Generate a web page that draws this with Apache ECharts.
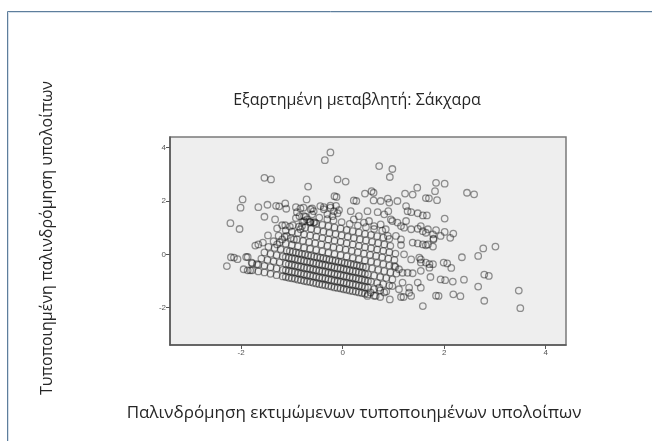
<!DOCTYPE html>
<html>
<head>
<meta charset="utf-8">
<script src="https://cdn.jsdelivr.net/npm/echarts@6/dist/echarts.min.js"></script>
<style>
html,body{margin:0;padding:0;background:#fff;}
#chart{width:652px;height:441px;}
</style>
</head>
<body>
<div id="chart"></div>
<script>
// Text
var chartTitle = 'Εξαρτημένη μεταβλητή: Σάκχαρα';
var xAxisName = 'Παλινδρόμηση εκτιμώμενων τυποποιημένων υπολοίπων';
var yAxisName = 'Τυποποιημένη παλινδρόμηση υπολοίπων';
var xTicks = [-2, 0, 2, 4];
var yTicks = [-2, 0, 2, 4];

// Residual stripes (x = standardized predicted, y = standardized residual)
var stripeA = [[-1.66,-0.64],[-1.54,-0.68],[-1.42,-0.73],[-1.3,-0.78],[-1.18,-0.83],[-1.06,-0.88],[-0.94,-0.92],[-0.82,-0.97],[-0.7,-1.02],[-0.58,-1.07],[-0.46,-1.12],[-0.34,-1.16],[-0.22,-1.21],[-0.1,-1.26],[0.02,-1.31],[0.14,-1.36],[0.26,-1.40],[0.38,-1.45],[0.5,-1.50],[0.62,-1.55],[0.74,-1.60]];
var stripeB = [[-1.78,-0.34],[-1.66,-0.39],[-1.54,-0.43],[-1.42,-0.48],[-1.3,-0.53],[-1.18,-0.58],[-1.06,-0.63],[-0.94,-0.67],[-0.82,-0.72],[-0.7,-0.77],[-0.58,-0.82],[-0.46,-0.87],[-0.34,-0.91],[-0.22,-0.96],[-0.1,-1.01],[0.02,-1.06],[0.14,-1.11],[0.26,-1.15],[0.38,-1.20],[0.5,-1.25],[0.62,-1.30],[0.74,-1.35],[0.86,-1.39]];
var stripeC = [[-1.6,-0.16],[-1.48,-0.21],[-1.36,-0.26],[-1.24,-0.30],[-1.12,-0.35],[-1.0,-0.40],[-0.88,-0.45],[-0.76,-0.50],[-0.64,-0.54],[-0.52,-0.59],[-0.4,-0.64],[-0.28,-0.69],[-0.16,-0.74],[-0.04,-0.78],[0.08,-0.83],[0.2,-0.88],[0.32,-0.93],[0.44,-0.98],[0.56,-1.02],[0.68,-1.07],[0.8,-1.12],[0.92,-1.17]];
var stripeD = [[-1.54,0.07],[-1.42,0.02],[-1.3,-0.03],[-1.18,-0.08],[-1.06,-0.13],[-0.94,-0.17],[-0.82,-0.22],[-0.7,-0.27],[-0.58,-0.32],[-0.46,-0.37],[-0.34,-0.41],[-0.22,-0.46],[-0.1,-0.51],[0.02,-0.56],[0.14,-0.61],[0.26,-0.65],[0.38,-0.70],[0.5,-0.75],[0.62,-0.80],[0.74,-0.85],[0.86,-0.89],[0.98,-0.94]];
var stripeE = [[-1.46,0.28],[-1.34,0.24],[-1.22,0.19],[-1.1,0.14],[-0.98,0.09],[-0.86,0.04],[-0.74,0.0],[-0.62,-0.05],[-0.5,-0.10],[-0.38,-0.15],[-0.26,-0.20],[-0.14,-0.24],[-0.02,-0.29],[0.1,-0.34],[0.22,-0.39],[0.34,-0.44],[0.46,-0.48],[0.58,-0.53],[0.7,-0.58],[0.82,-0.63],[0.94,-0.68],[1.06,-0.72]];
var stripeF = [[-1.36,0.49],[-1.24,0.45],[-1.12,0.40],[-1.0,0.35],[-0.88,0.30],[-0.76,0.25],[-0.64,0.21],[-0.52,0.16],[-0.4,0.11],[-0.28,0.06],[-0.16,0.01],[-0.04,-0.03],[0.08,-0.08],[0.2,-0.13],[0.32,-0.18],[0.44,-0.23],[0.56,-0.27],[0.68,-0.32],[0.8,-0.37],[0.92,-0.42],[1.04,-0.47]];
var stripeG = [[-1.26,0.70],[-1.14,0.66],[-1.02,0.61],[-0.9,0.56],[-0.78,0.51],[-0.66,0.46],[-0.54,0.42],[-0.42,0.37],[-0.3,0.32],[-0.18,0.27],[-0.06,0.22],[0.06,0.18],[0.18,0.13],[0.3,0.08],[0.42,0.03],[0.54,-0.02],[0.66,-0.06],[0.78,-0.11],[0.9,-0.16],[1.02,-0.21]];
var stripeH = [[-1.12,0.90],[-1.0,0.85],[-0.88,0.80],[-0.76,0.75],[-0.64,0.71],[-0.52,0.66],[-0.4,0.61],[-0.28,0.56],[-0.16,0.51],[-0.04,0.47],[0.08,0.42],[0.2,0.37],[0.32,0.32],[0.44,0.27],[0.56,0.23],[0.68,0.18],[0.8,0.13],[0.92,0.08],[1.04,0.03]];
var stripeI = [[-0.98,1.09],[-0.86,1.04],[-0.74,1.0],[-0.62,0.95],[-0.5,0.90],[-0.38,0.85],[-0.26,0.80],[-0.14,0.76],[-0.02,0.71],[0.1,0.66],[0.22,0.61],[0.34,0.56],[0.46,0.52],[0.58,0.47],[0.7,0.42],[0.82,0.37],[0.94,0.32]];
var stripeJ = [[-0.76,1.25],[-0.64,1.21],[-0.52,1.16],[-0.4,1.11],[-0.28,1.06],[-0.16,1.01],[-0.04,0.97],[0.08,0.92],[0.2,0.87],[0.32,0.82],[0.44,0.77],[0.56,0.73],[0.68,0.68],[0.8,0.63],[0.92,0.58]];
var stripeK = [[-0.46,1.38],[-0.3,1.32],[-0.18,1.27],[-0.02,1.21],[0.14,1.14],[0.3,1.08],[0.46,1.02],[0.62,0.95],[0.78,0.89]];

// Dense core (overlapping cases)
var coreA = [[-1.12,-0.85],[-1.0,-0.90],[-0.88,-0.95],[-0.76,-1.0],[-0.64,-1.04],[-0.52,-1.09],[-0.4,-1.14],[-0.28,-1.19],[-0.16,-1.24],[-0.04,-1.28],[0.08,-1.33],[0.2,-1.38],[0.32,-1.43],[0.44,-1.48]];
var coreB = [[-1.12,-0.60],[-1.0,-0.65],[-0.88,-0.70],[-0.76,-0.75],[-0.64,-0.79],[-0.52,-0.84],[-0.4,-0.89],[-0.28,-0.94],[-0.16,-0.99],[-0.04,-1.03],[0.08,-1.08],[0.2,-1.13],[0.32,-1.18],[0.44,-1.23]];
var coreC = [[-1.06,-0.38],[-0.94,-0.42],[-0.82,-0.47],[-0.7,-0.52],[-0.58,-0.57],[-0.46,-0.62],[-0.34,-0.66],[-0.22,-0.71],[-0.1,-0.76],[0.02,-0.81],[0.14,-0.86],[0.26,-0.90],[0.38,-0.95],[0.5,-1.0]];
var coreD = [[-1.12,-0.10],[-1.0,-0.15],[-0.88,-0.20],[-0.76,-0.25],[-0.64,-0.29],[-0.52,-0.34],[-0.4,-0.39],[-0.28,-0.44],[-0.16,-0.49],[-0.04,-0.53],[0.08,-0.58],[0.2,-0.63],[0.32,-0.68],[0.44,-0.73]];
var coreE = [[-1.04,0.12],[-0.92,0.07],[-0.8,0.02],[-0.68,-0.03],[-0.56,-0.08],[-0.44,-0.12],[-0.32,-0.17],[-0.2,-0.22],[-0.08,-0.27],[0.04,-0.32],[0.16,-0.36],[0.28,-0.41],[0.4,-0.46]];

// Scattered cases
var upperLeft = [[-2.28,-0.44],[-2.21,1.17],[-2.03,0.95],[-2.01,1.75],[-1.97,2.06],[-2.2,-0.11],[-2.14,-0.12],[-2.07,-0.18],[-1.9,-0.1],[-1.87,-0.1],[-1.95,-0.56],[-1.87,-0.6],[-1.82,-0.6],[-1.78,-0.6],[-1.72,0.33],[-1.66,0.37],[-1.57,0.44],[-1.79,-0.31],[-1.69,-0.37],[-1.54,1.41],[-1.54,2.87],[-1.41,2.81],[-1.66,1.77],[-1.48,1.86],[-1.31,1.82],[-1.25,1.8],[-1.13,1.91],[-1.11,1.71],[-1.33,1.31],[-1.47,0.71],[-1.29,0.97],[-1.19,1.09],[-1.13,1.09],[-1.04,1.04],[-1.1,0.69],[-0.96,0.56],[-0.83,0.94],[-1.19,0.56],[-1.29,0.37],[-0.92,1.36],[-0.85,1.43],[-0.79,1.22],[-0.73,1.41],[-0.63,1.21],[-0.55,1.21]];
var upperMid = [[-0.35,3.53],[-0.24,3.82],[-0.68,2.54],[-0.71,2.06],[-0.92,1.77],[-0.83,1.72],[-0.6,1.72],[-0.57,1.62],[-0.9,1.58],[-0.76,1.43],[-0.65,1.22],[-0.1,2.81],[0.06,2.73],[-0.16,2.18],[-0.12,2.15],[-0.37,1.77],[-0.24,1.83],[-0.13,1.82],[-0.44,1.81],[-0.37,1.69],[-0.24,1.75],[-0.17,1.62],[-0.07,1.66],[-0.3,1.5],[-0.2,1.43],[-0.1,1.54],[-0.77,1.75],[-0.63,1.69],[-0.6,1.5],[-0.7,1.31],[-0.8,1.06],[-0.57,1.19],[0.16,1.62],[0.22,1.31],[0.32,1.43],[0.42,1.19],[0.52,1.25],[0.62,1.06],[0.75,1.12],[0.85,0.94]];
var upperRight = [[0.72,3.31],[0.98,3.2],[0.93,2.9],[0.44,2.28],[0.57,2.37],[0.61,2.31],[0.61,2.02],[0.22,2.02],[0.27,2.0],[0.75,2.0],[0.89,2.09],[0.92,1.94],[1.08,2.0],[1.47,2.5],[1.23,2.28],[1.38,2.24],[1.84,2.68],[2.01,2.65],[1.82,2.37],[1.64,2.11],[1.7,2.1],[1.86,2.03],[2.45,2.31],[2.59,2.25],[1.25,1.81],[1.28,1.62],[1.35,1.58],[1.48,1.54],[1.58,1.46],[1.66,1.46],[0.49,1.62],[0.69,1.58],[0.82,1.5],[0.9,1.62],[0.95,1.31],[0.98,1.25],[1.08,1.19],[1.15,1.06],[2.01,1.34],[1.21,1.0],[1.35,0.94],[1.48,0.96],[1.58,0.87],[1.68,0.94],[1.25,1.25],[1.05,0.69],[1.15,0.56],[0.89,0.69],[1.54,1.06],[1.64,0.81],[1.78,0.75],[1.84,0.91],[1.93,0.69],[2.01,0.84],[2.12,0.62],[2.18,0.78],[1.79,0.59]];
var lowerRight = [[1.15,0.35],[1.38,0.44],[1.48,0.41],[1.58,0.37],[1.68,0.37],[1.64,0.34],[1.78,0.29],[1.79,0.56],[2.77,0.22],[3.01,0.29],[2.67,-0.06],[2.35,-0.11],[1.21,0.0],[1.35,-0.19],[1.51,-0.12],[1.54,-0.31],[1.71,-0.5],[1.54,-0.19],[1.64,-0.31],[1.71,-0.37],[1.78,-0.37],[1.99,-0.31],[2.06,-0.34],[2.14,-0.51],[1.54,-0.62],[1.73,-0.85],[1.93,-0.94],[2.02,-0.97],[2.17,-1.02],[2.39,-0.95],[2.79,-0.76],[2.88,-0.81],[2.67,-1.21],[1.84,-1.55],[1.89,-1.56],[2.18,-1.5],[2.32,-1.57],[2.79,-1.74],[3.47,-1.36],[3.5,-2.02],[1.58,-1.94],[1.02,-0.44],[1.11,-0.56],[1.18,-0.69],[1.28,-0.69],[1.38,-0.71],[1.48,-1.06],[1.54,-1.25],[1.18,-1.06],[0.98,-1.19],[1.11,-1.31],[1.31,-1.25],[0.93,-1.69],[1.15,-1.6],[1.2,-1.6],[1.35,-1.56],[1.31,-1.44],[0.72,-1.25],[0.82,-1.43],[0.65,-1.56],[0.55,-1.43],[0.49,-1.56]];

var allPoints = [].concat(stripeA, stripeB, stripeC, stripeD, stripeE, stripeF, stripeG, stripeH, stripeI, stripeJ, stripeK,
  coreA, coreB, coreC, coreD, coreE, upperLeft, upperMid, upperRight, lowerRight);

var chart = echarts.init(document.getElementById('chart'), null, {renderer: 'canvas'});
var labelFont = '"Open Sans", "Noto Sans", sans-serif';
chart.setOption({
  backgroundColor: '#ffffff',
  animation: false,
  graphic: [
    {type: 'rect', silent: true, shape: {x: 7.5, y: 11.5, width: 700, height: 500},
     style: {fill: '#ffffff', stroke: '#5e7e9c', lineWidth: 1}, z: -10},
    {type: 'rect', silent: true, shape: {x: 8.5, y: 12.5, width: 700, height: 500},
     style: {fill: 'none', stroke: '#d6e0ea', lineWidth: 1}, z: -9},
    {type: 'text', silent: true, x: 357, y: 100,
     style: {text: chartTitle, textAlign: 'center', textVerticalAlign: 'middle',
             font: '16px ' + labelFont, fill: '#262626'}},
    {type: 'text', silent: true, x: 354, y: 413,
     style: {text: xAxisName, textAlign: 'center', textVerticalAlign: 'middle',
             font: '17px ' + labelFont, fill: '#262626'}},
    {type: 'text', silent: true, x: 47, y: 238, rotation: Math.PI / 2,
     style: {text: yAxisName, textAlign: 'center', textVerticalAlign: 'middle',
             font: '16px ' + labelFont, fill: '#262626'}}
  ],
  grid: {left: 170, top: 137, right: 86, bottom: 96, show: true,
         backgroundColor: '#eeeeee', borderColor: '#7a7a7a', borderWidth: 1.5},
  xAxis: {
    type: 'value', min: -3.4, max: 4.4,
    splitLine: {show: false},
    axisLine: {show: true, onZero: false, lineStyle: {color: '#555', width: 1.5}},
    axisTick: {show: true, length: 4, customValues: xTicks, lineStyle: {color: '#555'}},
    axisLabel: {customValues: xTicks, fontSize: 8, color: '#555', margin: 4,
                fontFamily: 'Liberation Sans, Arial, sans-serif'}
  },
  yAxis: {
    type: 'value', min: -3.4, max: 4.4,
    splitLine: {show: false},
    axisLine: {show: true, onZero: false, lineStyle: {color: '#555', width: 1.5}},
    axisTick: {show: true, length: 4, customValues: yTicks, lineStyle: {color: '#555'}},
    axisLabel: {customValues: yTicks, fontSize: 8, color: '#555', margin: 4,
                fontFamily: 'Liberation Sans, Arial, sans-serif'}
  },
  series: [{
    type: 'scatter',
    data: allPoints,
    symbol: 'circle',
    symbolSize: 6.5,
    itemStyle: {color: 'rgba(0,0,0,0)', borderColor: 'rgba(15,15,15,0.55)', borderWidth: 1.3},
    emphasis: {disabled: true},
    silent: true
  }]
});
</script>
</body>
</html>
